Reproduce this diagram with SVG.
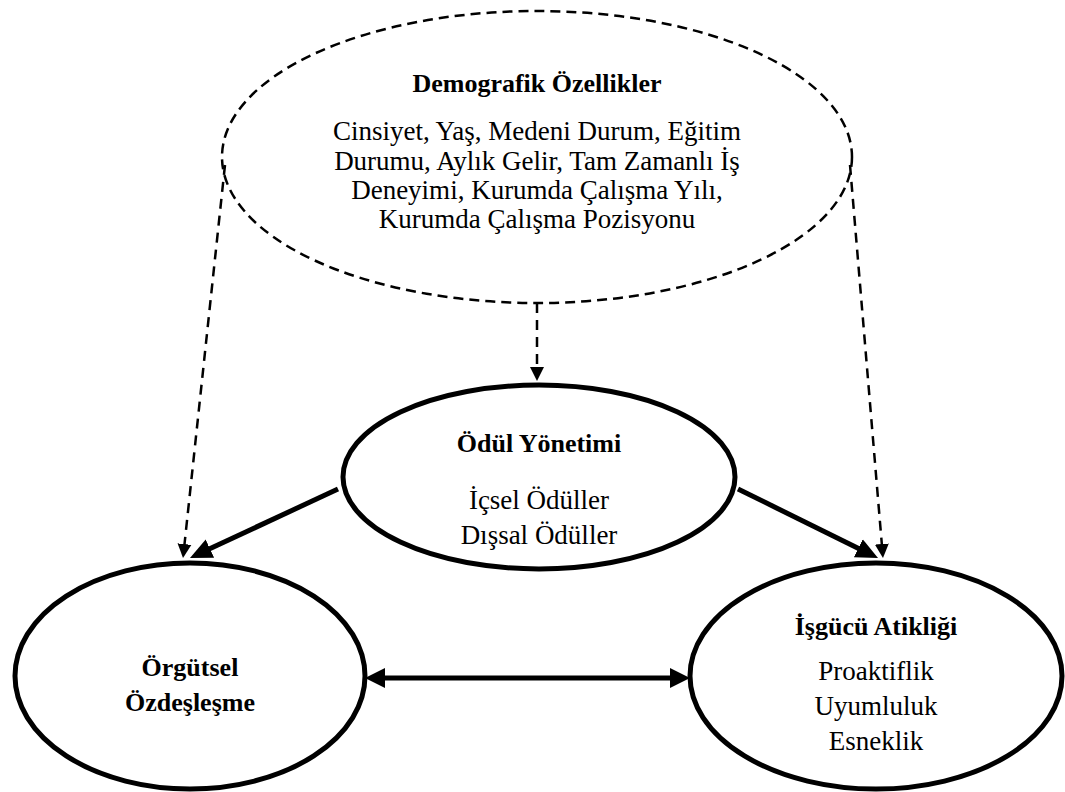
<svg xmlns="http://www.w3.org/2000/svg" width="1065" height="792" viewBox="0 0 1065 792">
  <style>
    .solid { fill: #fff; stroke: #000; stroke-width: 5; }
    .dashed { fill: none; stroke: #000; stroke-width: 2.5; stroke-dasharray: 10 6; }
    .link { fill: none; stroke: #000; stroke-width: 5; }
    .dlink { fill: none; stroke: #000; stroke-width: 2.5; stroke-dasharray: 10 7; }
    text { font-family: "Liberation Serif", "Times New Roman", serif; font-size: 27px; fill: #000; text-anchor: middle; }
    .b { font-weight: bold; font-size: 26px; }
  </style>
  <defs>
    <marker id="headBig" markerUnits="userSpaceOnUse" markerWidth="24" markerHeight="22" viewBox="0 -11 24 22" refX="2" refY="0" orient="auto">
      <path d="M0,-10 L22,0 L0,10 Z" fill="#000"/>
    </marker>
    <marker id="headMid" markerUnits="userSpaceOnUse" markerWidth="22" markerHeight="22" viewBox="0 -11 22 22" refX="2" refY="0" orient="auto-start-reverse">
      <path d="M0,-10 L20,0 L0,10 Z" fill="#000"/>
    </marker>
    <marker id="headSmall" markerUnits="userSpaceOnUse" markerWidth="16" markerHeight="16" viewBox="0 -8 16 16" refX="1" refY="0" orient="auto">
      <path d="M0,-7 L14,0 L0,7 Z" fill="#000"/>
    </marker>
  </defs>

  <!-- connectors -->
  <g id="connectors">
    <line class="dlink" x1="225" y1="165" x2="184.4" y2="545.1" marker-end="url(#headSmall)"/>
    <line class="dlink" x1="850" y1="165" x2="881.9" y2="545.0" marker-end="url(#headSmall)"/>
    <line class="dlink" x1="537" y1="303" x2="537" y2="368" marker-end="url(#headSmall)"/>
    <line class="link" x1="338" y1="489" x2="208.1" y2="549.5" marker-end="url(#headBig)"/>
    <line class="link" x1="738" y1="489" x2="860.1" y2="549.2" marker-end="url(#headBig)"/>
    <line class="link" x1="383" y1="678" x2="672" y2="678" marker-start="url(#headMid)" marker-end="url(#headMid)"/>
  </g>

  <!-- demographic characteristics -->
  <g id="demografik">
    <ellipse class="dashed" cx="537" cy="157" rx="315" ry="146"/>
    <text class="b" x="537" y="92">Demografik Özellikler</text>
    <text x="537" y="140">Cinsiyet, Yaş, Medeni Durum, Eğitim</text>
    <text x="537" y="170">Durumu, Aylık Gelir, Tam Zamanlı İş</text>
    <text x="537" y="199">Deneyimi, Kurumda Çalışma Yılı,</text>
    <text x="537" y="228">Kurumda Çalışma Pozisyonu</text>
  </g>

  <!-- reward management -->
  <g id="odul">
    <ellipse class="solid" cx="539" cy="477" rx="196" ry="92"/>
    <text class="b" x="539" y="452">Ödül Yönetimi</text>
    <text x="539" y="509">İçsel Ödüller</text>
    <text x="539" y="544">Dışsal Ödüller</text>
  </g>

  <!-- organizational identification -->
  <g id="orgutsel">
    <ellipse class="solid" cx="190" cy="676" rx="175" ry="113"/>
    <text class="b" x="190" y="676">Örgütsel</text>
    <text class="b" x="190" y="711">Özdeşleşme</text>
  </g>

  <!-- workforce agility -->
  <g id="isgucu">
    <ellipse class="solid" cx="876" cy="676" rx="186" ry="113"/>
    <text class="b" x="876" y="635">İşgücü Atikliği</text>
    <text x="876" y="680">Proaktiflik</text>
    <text x="876" y="715">Uyumluluk</text>
    <text x="876" y="750">Esneklik</text>
  </g>
</svg>
